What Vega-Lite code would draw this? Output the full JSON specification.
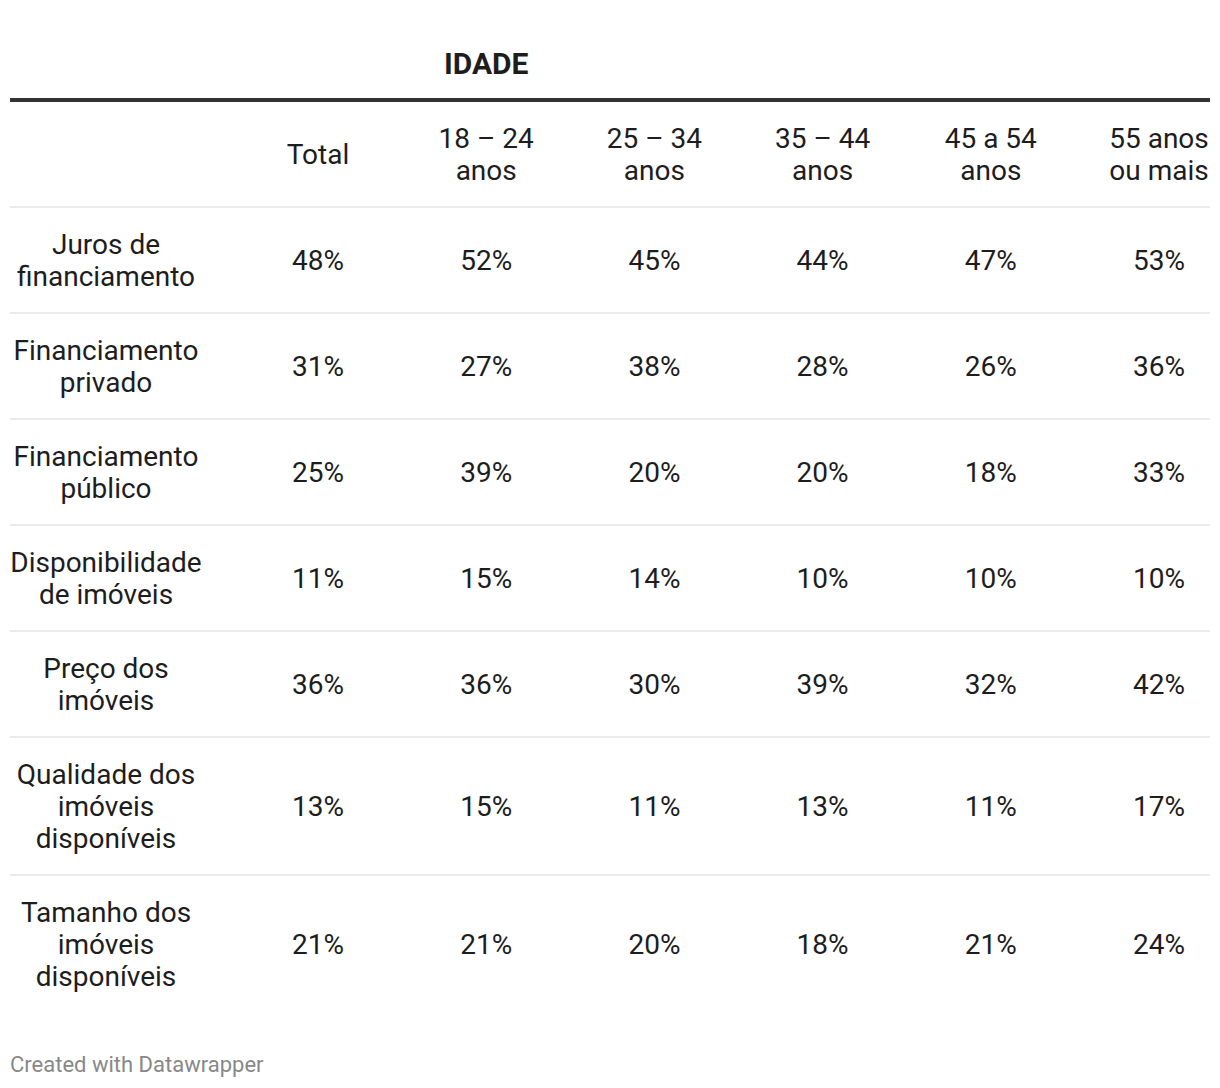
{
  "$schema": "https://vega.github.io/schema/vega-lite/v6.json",
  "background": "#ffffff",
  "padding": {"top": 26, "left": 8, "right": 8, "bottom": 10},
  "spacing": 0,
  "bounds": "flush",
  "config": {
    "view": {"stroke": null},
    "concat": {"spacing": 0},
    "text": {"font": "Roboto", "fontSize": 28, "color": "#1d1d1d", "lineHeight": 32, "baseline": "middle", "align": "center", "dy": 3}
  },
  "title": {
    "text": "Created with Datawrapper",
    "orient": "bottom",
    "anchor": "start",
    "frame": "group",
    "font": "Roboto",
    "fontSize": 22,
    "fontWeight": "normal",
    "color": "#888888",
    "offset": 43
  },
  "datasets": {
    "grupo": [
      {"grupo": "IDADE", "idade": "18 – 24 anos"}
    ],
    "colunas": [
      {"fator": "cabeçalho", "idade": "Total", "rotulo": ["Total"]},
      {"fator": "cabeçalho", "idade": "18 – 24 anos", "rotulo": ["18 – 24", "anos"]},
      {"fator": "cabeçalho", "idade": "25 – 34 anos", "rotulo": ["25 – 34", "anos"]},
      {"fator": "cabeçalho", "idade": "35 – 44 anos", "rotulo": ["35 – 44", "anos"]},
      {"fator": "cabeçalho", "idade": "45 a 54 anos", "rotulo": ["45 a 54", "anos"]},
      {"fator": "cabeçalho", "idade": "55 anos ou mais", "rotulo": ["55 anos", "ou mais"]}
    ],
    "fatores": [
      {"fator": "Juros de financiamento", "rotulo": ["Juros de", "financiamento"]},
      {"fator": "Financiamento privado", "rotulo": ["Financiamento", "privado"]},
      {"fator": "Financiamento público", "rotulo": ["Financiamento", "público"]},
      {"fator": "Disponibilidade de imóveis", "rotulo": ["Disponibilidade", "de imóveis"]},
      {"fator": "Preço dos imóveis", "rotulo": ["Preço dos", "imóveis"]},
      {"fator": "Qualidade dos imóveis disponíveis", "rotulo": ["Qualidade dos", "imóveis", "disponíveis"]},
      {"fator": "Tamanho dos imóveis disponíveis", "rotulo": ["Tamanho dos", "imóveis", "disponíveis"]}
    ],
    "celulas": [
      {"fator": "Juros de financiamento", "idade": "Total", "pct": 0.48},
      {"fator": "Juros de financiamento", "idade": "18 – 24 anos", "pct": 0.52},
      {"fator": "Juros de financiamento", "idade": "25 – 34 anos", "pct": 0.45},
      {"fator": "Juros de financiamento", "idade": "35 – 44 anos", "pct": 0.44},
      {"fator": "Juros de financiamento", "idade": "45 a 54 anos", "pct": 0.47},
      {"fator": "Juros de financiamento", "idade": "55 anos ou mais", "pct": 0.53},
      {"fator": "Financiamento privado", "idade": "Total", "pct": 0.31},
      {"fator": "Financiamento privado", "idade": "18 – 24 anos", "pct": 0.27},
      {"fator": "Financiamento privado", "idade": "25 – 34 anos", "pct": 0.38},
      {"fator": "Financiamento privado", "idade": "35 – 44 anos", "pct": 0.28},
      {"fator": "Financiamento privado", "idade": "45 a 54 anos", "pct": 0.26},
      {"fator": "Financiamento privado", "idade": "55 anos ou mais", "pct": 0.36},
      {"fator": "Financiamento público", "idade": "Total", "pct": 0.25},
      {"fator": "Financiamento público", "idade": "18 – 24 anos", "pct": 0.39},
      {"fator": "Financiamento público", "idade": "25 – 34 anos", "pct": 0.20},
      {"fator": "Financiamento público", "idade": "35 – 44 anos", "pct": 0.20},
      {"fator": "Financiamento público", "idade": "45 a 54 anos", "pct": 0.18},
      {"fator": "Financiamento público", "idade": "55 anos ou mais", "pct": 0.33},
      {"fator": "Disponibilidade de imóveis", "idade": "Total", "pct": 0.11},
      {"fator": "Disponibilidade de imóveis", "idade": "18 – 24 anos", "pct": 0.15},
      {"fator": "Disponibilidade de imóveis", "idade": "25 – 34 anos", "pct": 0.14},
      {"fator": "Disponibilidade de imóveis", "idade": "35 – 44 anos", "pct": 0.10},
      {"fator": "Disponibilidade de imóveis", "idade": "45 a 54 anos", "pct": 0.10},
      {"fator": "Disponibilidade de imóveis", "idade": "55 anos ou mais", "pct": 0.10},
      {"fator": "Preço dos imóveis", "idade": "Total", "pct": 0.36},
      {"fator": "Preço dos imóveis", "idade": "18 – 24 anos", "pct": 0.36},
      {"fator": "Preço dos imóveis", "idade": "25 – 34 anos", "pct": 0.30},
      {"fator": "Preço dos imóveis", "idade": "35 – 44 anos", "pct": 0.39},
      {"fator": "Preço dos imóveis", "idade": "45 a 54 anos", "pct": 0.32},
      {"fator": "Preço dos imóveis", "idade": "55 anos ou mais", "pct": 0.42},
      {"fator": "Qualidade dos imóveis disponíveis", "idade": "Total", "pct": 0.13},
      {"fator": "Qualidade dos imóveis disponíveis", "idade": "18 – 24 anos", "pct": 0.15},
      {"fator": "Qualidade dos imóveis disponíveis", "idade": "25 – 34 anos", "pct": 0.11},
      {"fator": "Qualidade dos imóveis disponíveis", "idade": "35 – 44 anos", "pct": 0.13},
      {"fator": "Qualidade dos imóveis disponíveis", "idade": "45 a 54 anos", "pct": 0.11},
      {"fator": "Qualidade dos imóveis disponíveis", "idade": "55 anos ou mais", "pct": 0.17},
      {"fator": "Tamanho dos imóveis disponíveis", "idade": "Total", "pct": 0.21},
      {"fator": "Tamanho dos imóveis disponíveis", "idade": "18 – 24 anos", "pct": 0.21},
      {"fator": "Tamanho dos imóveis disponíveis", "idade": "25 – 34 anos", "pct": 0.20},
      {"fator": "Tamanho dos imóveis disponíveis", "idade": "35 – 44 anos", "pct": 0.18},
      {"fator": "Tamanho dos imóveis disponíveis", "idade": "45 a 54 anos", "pct": 0.21},
      {"fator": "Tamanho dos imóveis disponíveis", "idade": "55 anos ou mais", "pct": 0.24}
    ]
  },
  "vconcat": [
    {
      "width": 1200,
      "height": {"step": 74},
      "data": {"name": "grupo"},
      "mark": {"type": "text", "fontWeight": "bold", "fontSize": 30, "dy": 2},
      "encoding": {
        "x": {"field": "idade", "type": "nominal", "axis": null,
              "scale": {"type": "point", "padding": 0, "range": [308, 1149],
                        "domain": ["Total", "18 – 24 anos", "25 – 34 anos", "35 – 44 anos", "45 a 54 anos", "55 anos ou mais"]}},
        "y": {"field": "grupo", "type": "nominal", "axis": null,
              "scale": {"type": "band", "paddingInner": 0, "paddingOuter": 0}},
        "text": {"field": "grupo"}
      }
    },
    {
      "width": 1200,
      "height": {"step": 106},
      "resolve": {"scale": {"x": "independent"}},
      "layer": [
        {
          "data": {"name": "colunas"},
          "transform": [{"filter": "datum.idade === 'Total'"}],
          "mark": {"type": "rule", "stroke": "#333333", "strokeWidth": 4},
          "encoding": {
            "y": {"field": "fator", "type": "nominal", "bandPosition": 0, "axis": null,
                  "scale": {"type": "band", "paddingInner": 0, "paddingOuter": 0,
                            "domain": ["cabeçalho", "Juros de financiamento", "Financiamento privado", "Financiamento público", "Disponibilidade de imóveis", "Preço dos imóveis"]}}
          }
        },
        {
          "data": {"name": "fatores"},
          "transform": [
            {"filter": {"field": "fator", "oneOf": ["Juros de financiamento", "Financiamento privado", "Financiamento público", "Disponibilidade de imóveis", "Preço dos imóveis"]}}
          ],
          "mark": {"type": "rule", "stroke": "#ebebeb", "strokeWidth": 2, "yOffset": 1},
          "encoding": {
            "y": {"field": "fator", "type": "nominal", "bandPosition": 0, "axis": null,
                  "scale": {"type": "band", "paddingInner": 0, "paddingOuter": 0,
                            "domain": ["cabeçalho", "Juros de financiamento", "Financiamento privado", "Financiamento público", "Disponibilidade de imóveis", "Preço dos imóveis"]}}
          }
        },
        {
          "data": {"name": "colunas"},
          "transform": [{"filter": "datum.idade === 'Total'"}],
          "mark": {"type": "text"},
          "encoding": {
            "x": {"field": "idade", "type": "nominal", "axis": null,
                  "scale": {"type": "point", "padding": 0, "range": [308, 1149],
                            "domain": ["Total", "18 – 24 anos", "25 – 34 anos", "35 – 44 anos", "45 a 54 anos", "55 anos ou mais"]}},
            "y": {"field": "fator", "type": "nominal", "bandPosition": 0.5, "axis": null,
                  "scale": {"type": "band", "paddingInner": 0, "paddingOuter": 0,
                            "domain": ["cabeçalho", "Juros de financiamento", "Financiamento privado", "Financiamento público", "Disponibilidade de imóveis", "Preço dos imóveis"]}},
            "text": {"field": "rotulo"}
          }
        },
        {
          "data": {"name": "colunas"},
          "transform": [{"filter": "datum.idade !== 'Total'"}],
          "mark": {"type": "text", "dy": -13},
          "encoding": {
            "x": {"field": "idade", "type": "nominal", "axis": null,
                  "scale": {"type": "point", "padding": 0, "range": [308, 1149],
                            "domain": ["Total", "18 – 24 anos", "25 – 34 anos", "35 – 44 anos", "45 a 54 anos", "55 anos ou mais"]}},
            "y": {"field": "fator", "type": "nominal", "bandPosition": 0.5, "axis": null,
                  "scale": {"type": "band", "paddingInner": 0, "paddingOuter": 0,
                            "domain": ["cabeçalho", "Juros de financiamento", "Financiamento privado", "Financiamento público", "Disponibilidade de imóveis", "Preço dos imóveis"]}},
            "text": {"field": "rotulo"}
          }
        },
        {
          "data": {"name": "celulas"},
          "transform": [
            {"filter": {"field": "fator", "oneOf": ["Juros de financiamento", "Financiamento privado", "Financiamento público", "Disponibilidade de imóveis", "Preço dos imóveis"]}}
          ],
          "mark": {"type": "text"},
          "encoding": {
            "x": {"field": "idade", "type": "nominal", "axis": null,
                  "scale": {"type": "point", "padding": 0, "range": [308, 1149],
                            "domain": ["Total", "18 – 24 anos", "25 – 34 anos", "35 – 44 anos", "45 a 54 anos", "55 anos ou mais"]}},
            "y": {"field": "fator", "type": "nominal", "bandPosition": 0.5, "axis": null,
                  "scale": {"type": "band", "paddingInner": 0, "paddingOuter": 0,
                            "domain": ["cabeçalho", "Juros de financiamento", "Financiamento privado", "Financiamento público", "Disponibilidade de imóveis", "Preço dos imóveis"]}},
            "text": {"field": "pct", "type": "quantitative", "format": ".0%"}
          }
        },
        {
          "data": {"name": "fatores"},
          "transform": [
            {"filter": {"field": "fator", "oneOf": ["Juros de financiamento", "Financiamento privado", "Financiamento público", "Disponibilidade de imóveis", "Preço dos imóveis"]}}
          ],
          "mark": {"type": "text", "dy": -13},
          "encoding": {
            "x": {"datum": "fator", "type": "nominal", "axis": null,
                  "scale": {"type": "point", "padding": 0, "range": [0, 192], "domain": ["fator"]}},
            "y": {"field": "fator", "type": "nominal", "bandPosition": 0.5, "axis": null,
                  "scale": {"type": "band", "paddingInner": 0, "paddingOuter": 0,
                            "domain": ["cabeçalho", "Juros de financiamento", "Financiamento privado", "Financiamento público", "Disponibilidade de imóveis", "Preço dos imóveis"]}},
            "text": {"field": "rotulo"}
          }
        }
      ]
    },
    {
      "width": 1200,
      "height": {"step": 138},
      "resolve": {"scale": {"x": "independent"}},
      "layer": [
        {
          "data": {"name": "fatores"},
          "transform": [
            {"filter": {"field": "fator", "oneOf": ["Qualidade dos imóveis disponíveis", "Tamanho dos imóveis disponíveis"]}}
          ],
          "mark": {"type": "rule", "stroke": "#ebebeb", "strokeWidth": 2, "yOffset": 1},
          "encoding": {
            "y": {"field": "fator", "type": "nominal", "bandPosition": 0, "axis": null,
                  "scale": {"type": "band", "paddingInner": 0, "paddingOuter": 0,
                            "domain": ["Qualidade dos imóveis disponíveis", "Tamanho dos imóveis disponíveis"]}}
          }
        },
        {
          "data": {"name": "celulas"},
          "transform": [
            {"filter": {"field": "fator", "oneOf": ["Qualidade dos imóveis disponíveis", "Tamanho dos imóveis disponíveis"]}}
          ],
          "mark": {"type": "text"},
          "encoding": {
            "x": {"field": "idade", "type": "nominal", "axis": null,
                  "scale": {"type": "point", "padding": 0, "range": [308, 1149],
                            "domain": ["Total", "18 – 24 anos", "25 – 34 anos", "35 – 44 anos", "45 a 54 anos", "55 anos ou mais"]}},
            "y": {"field": "fator", "type": "nominal", "bandPosition": 0.5, "axis": null,
                  "scale": {"type": "band", "paddingInner": 0, "paddingOuter": 0,
                            "domain": ["Qualidade dos imóveis disponíveis", "Tamanho dos imóveis disponíveis"]}},
            "text": {"field": "pct", "type": "quantitative", "format": ".0%"}
          }
        },
        {
          "data": {"name": "fatores"},
          "transform": [
            {"filter": {"field": "fator", "oneOf": ["Qualidade dos imóveis disponíveis", "Tamanho dos imóveis disponíveis"]}}
          ],
          "mark": {"type": "text", "dy": -29},
          "encoding": {
            "x": {"datum": "fator", "type": "nominal", "axis": null,
                  "scale": {"type": "point", "padding": 0, "range": [0, 192], "domain": ["fator"]}},
            "y": {"field": "fator", "type": "nominal", "bandPosition": 0.5, "axis": null,
                  "scale": {"type": "band", "paddingInner": 0, "paddingOuter": 0,
                            "domain": ["Qualidade dos imóveis disponíveis", "Tamanho dos imóveis disponíveis"]}},
            "text": {"field": "rotulo"}
          }
        }
      ]
    }
  ]
}
